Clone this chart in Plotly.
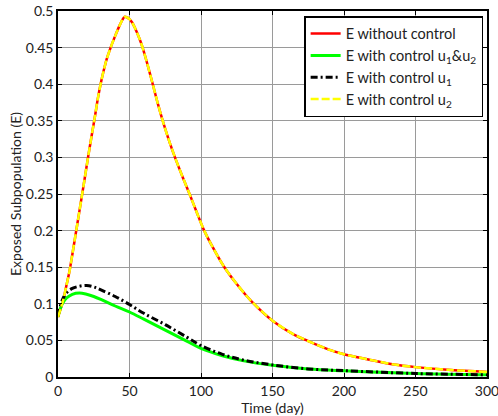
import plotly.graph_objects as go

# Sample times (days) and exposed subpopulation E under each strategy
t_none = [0, 2, 4, 6, 8, 10, 12, 15, 18, 21, 24, 26, 28, 30, 32, 34, 37, 40, 43, 45,
          46.5, 48, 50, 52, 54, 57, 59, 62, 66, 70, 74, 78, 82, 87, 92, 97, 102, 108,
          116, 125, 135, 150, 165, 175, 190, 200, 217, 235, 250, 275, 300]
e_none = [0.082, 0.094, 0.108, 0.126, 0.144, 0.167, 0.191, 0.227, 0.263, 0.300,
          0.335, 0.358, 0.382, 0.402, 0.419, 0.434, 0.451, 0.466, 0.480, 0.488,
          0.492, 0.4915, 0.489, 0.484, 0.476, 0.462, 0.451, 0.431, 0.402, 0.372,
          0.345, 0.321, 0.299, 0.274, 0.250, 0.225, 0.201, 0.178, 0.151, 0.127,
          0.104, 0.077, 0.058, 0.049, 0.037, 0.031, 0.024, 0.017, 0.0135, 0.0095, 0.007]

t_ctrl = [0, 3, 6, 10, 15, 20, 25, 30, 40, 50, 60, 75, 90, 100, 115, 130, 150,
          175, 200, 250, 300]
e_u1u2 = [0.083, 0.100, 0.108, 0.113, 0.1147, 0.113, 0.110, 0.106, 0.097, 0.0888,
          0.079, 0.064, 0.049, 0.039, 0.029, 0.022, 0.016, 0.011, 0.0085, 0.0048, 0.003]
e_u1 = [0.083, 0.105, 0.115, 0.121, 0.124, 0.125, 0.123, 0.119, 0.110, 0.099,
        0.087, 0.0715, 0.0545, 0.043, 0.031, 0.023, 0.0165, 0.011, 0.0087, 0.0048, 0.003]

t_u2 = t_none
e_u2 = [0.082, 0.094, 0.108, 0.126, 0.144, 0.167, 0.191, 0.227, 0.263, 0.300,
        0.335, 0.358, 0.382, 0.402, 0.419, 0.434, 0.451, 0.466, 0.480, 0.488,
        0.492, 0.4915, 0.489, 0.484, 0.476, 0.462, 0.451, 0.431, 0.402, 0.372,
        0.345, 0.321, 0.299, 0.274, 0.250, 0.225, 0.201, 0.178, 0.151, 0.127,
        0.104, 0.077, 0.058, 0.049, 0.037, 0.031, 0.024, 0.017, 0.0135, 0.0095, 0.007]

x_ticks = [0, 50, 100, 150, 200, 250, 300]
y_ticks = [0, 0.05, 0.1, 0.15, 0.2, 0.25, 0.3, 0.35, 0.4, 0.45, 0.5]
y_tick_text = ["0", "0.05", "0.1", "0.15", "0.2", "0.25", "0.3", "0.35", "0.4", "0.45", "0.5"]

FONT = "Lato"
TXT = "#222222"

fig = go.Figure()
fig.add_trace(go.Scatter(x=t_none, y=e_none, mode="lines", name="E without control",
                         line=dict(color="#ff0000", width=2.5, shape="spline", smoothing=0.8)))
fig.add_trace(go.Scatter(x=t_ctrl, y=e_u1u2, mode="lines",
                         name="E with control u<sub>1</sub>&u<sub>2</sub>",
                         line=dict(color="#00ff00", width=3, shape="spline")))
fig.add_trace(go.Scatter(x=t_ctrl, y=e_u1, mode="lines",
                         name="E with control u<sub>1</sub>",
                         line=dict(color="#000000", width=3, shape="spline",
                                   dash="7px,3px,2px,3px")))
fig.add_trace(go.Scatter(x=t_u2, y=e_u2, mode="lines",
                         name="E with control u<sub>2</sub>",
                         line=dict(color="#ffff00", width=2.5, shape="spline", smoothing=0.8,
                                   dash="8px,3px")))

axis_common = dict(
    showline=True, linecolor="black", linewidth=1.5, mirror="allticks",
    ticks="inside", ticklen=4, tickcolor="black",
    showgrid=True, gridcolor="#9a9a9a", gridwidth=1, zeroline=False,
    tickfont=dict(family=FONT, size=14, color=TXT),
    ticklabeloverflow="allow",
)

fig.update_xaxes(range=[0, 300], tickvals=x_ticks, ticktext=[str(v) for v in x_ticks],
                 title=dict(text="Time (day)", font=dict(family=FONT, size=14, color=TXT),
                            standoff=0),
                 **axis_common)
fig.update_yaxes(range=[0, 0.5], tickvals=y_ticks, ticktext=y_tick_text,
                 title=dict(text="Exposed Subpopulation (E)",
                            font=dict(family=FONT, size=14, color=TXT), standoff=1),
                 **axis_common)

fig.update_layout(
    width=498, height=416,
    margin=dict(l=58, r=11, t=11, b=39, autoexpand=False),
    paper_bgcolor="white", plot_bgcolor="white",
    font=dict(family=FONT, size=14, color=TXT),
    legend=dict(x=0.991, y=0.986, xanchor="right", yanchor="top",
                bgcolor="white", bordercolor="black", borderwidth=1.5,
                font=dict(family=FONT, size=14.5, color=TXT)),
    showlegend=True,
)

fig.write_html("out.html")
